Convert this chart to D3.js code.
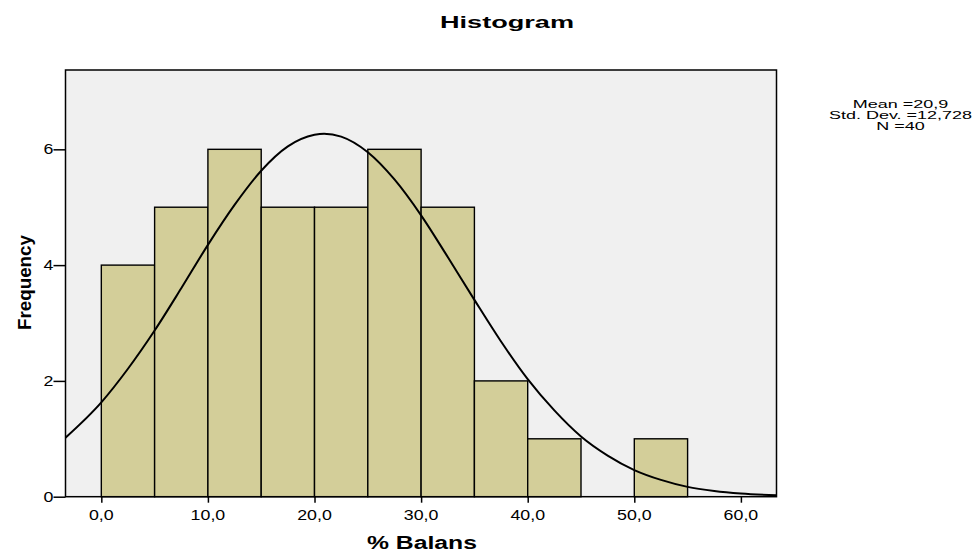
<!DOCTYPE html>
<html>
<head>
<meta charset="utf-8">
<script src="https://cdn.jsdelivr.net/npm/d3@7/dist/d3.min.js"></script>
<style>
  html, body { margin: 0; padding: 0; background: #fff; }
  svg { display: block; font-family: "Liberation Sans", Arial, sans-serif; }
</style>
</head>
<body>
<svg id="chart" width="979" height="556"></svg>
<script>
// ---- data ----
const binLower = [0, 5, 10, 15, 20, 25, 30, 35, 40, 45, 50];
const binUpper = [5, 10, 15, 20, 25, 30, 35, 40, 45, 50, 55];
const frequency = [4, 5, 6, 5, 5, 6, 5, 2, 1, 0, 1];
const xTicks = [0, 10, 20, 30, 40, 50, 60];
const xTickLabels = ["0,0", "10,0", "20,0", "30,0", "40,0", "50,0", "60,0"];
const yTicks = [0, 2, 4, 6];
const yTickLabels = ["0", "2", "4", "6"];
// normal curve
const curveX = [-3.36, 0, 2.5, 5, 7.5, 10, 12.5, 15, 17.5, 20, 20.9, 22.5, 25, 27.5, 30, 32.5, 35, 37.5, 40, 42.5, 45, 47.5, 50, 52.5, 55, 57.5, 60, 63.34];
const curveY = [1.02, 1.63, 2.21, 2.87, 3.60, 4.35, 5.04, 5.63, 6.05, 6.25, 6.27, 6.22, 5.95, 5.48, 4.86, 4.14, 3.40, 2.68, 2.03, 1.49, 1.04, 0.71, 0.46, 0.29, 0.17, 0.10, 0.056, 0.024];
const statsLines = ["Mean =20,9", "Std. Dev. =12,728", "N =40"];
const titleText = "Histogram";
const xLabel = "% Balans";
const yLabel = "Frequency";

// ---- layout ----
const svg = d3.select("#chart");
const pL = 65.5, pR = 776.5, pT = 70, pB = 496.7;
const x = d3.scaleLinear().domain([-3.36, 63.34]).range([pL, pR]);
const y = d3.scaleLinear().domain([0, 7.37]).range([pB, pT]);

svg.append("defs").append("clipPath").attr("id", "plotclip")
  .append("rect").attr("x", pL).attr("y", pT).attr("width", pR - pL).attr("height", pB - pT);

// plot background
svg.append("rect")
  .attr("x", pL).attr("y", pT).attr("width", pR - pL).attr("height", pB - pT)
  .attr("fill", "#f0f0f0");

// bars
const bars = binLower.map((lo, i) => ({ lo, hi: binUpper[i], f: frequency[i] })).filter(d => d.f > 0);
svg.append("g").selectAll("rect").data(bars).join("rect")
  .attr("x", d => x(d.lo))
  .attr("y", d => y(d.f))
  .attr("width", d => x(d.hi) - x(d.lo))
  .attr("height", d => y(0) - y(d.f))
  .attr("fill", "#d3ce99")
  .attr("stroke", "#000")
  .attr("stroke-width", 1.4);

// normal curve
const line = d3.line().x(d => x(d[0])).y(d => y(d[1])).curve(d3.curveMonotoneX);
svg.append("path")
  .datum(curveX.map((v, i) => [v, curveY[i]]))
  .attr("clip-path", "url(#plotclip)")
  .attr("d", line)
  .attr("fill", "none")
  .attr("stroke", "#000")
  .attr("stroke-width", 2);

// frame
svg.append("rect")
  .attr("x", pL).attr("y", pT).attr("width", pR - pL).attr("height", pB - pT)
  .attr("fill", "none").attr("stroke", "#000").attr("stroke-width", 1.5);

// x axis
const xAxis = d3.axisBottom(x).tickValues(xTicks).tickSize(6).tickFormat("");
const gx = svg.append("g").attr("transform", `translate(0,${pB})`).call(xAxis);
gx.select(".domain").remove();
gx.selectAll(".tick line").attr("stroke", "#000").attr("stroke-width", 1.5);
svg.append("g").selectAll("text").data(xTicks).join("text")
  .attr("transform", d => `translate(${x(d)},520) scale(1.27,1)`)
  .attr("text-anchor", "middle")
  .attr("font-size", 14)
  .attr("fill", "#000")
  .text((d, i) => xTickLabels[i]);

// y axis
const yAxis = d3.axisLeft(y).tickValues(yTicks).tickSize(12).tickFormat("");
const gy = svg.append("g").attr("transform", `translate(${pL},0)`).call(yAxis);
gy.select(".domain").remove();
gy.selectAll(".tick line").attr("stroke", "#000").attr("stroke-width", 1.5);
svg.append("g").selectAll("text").data(yTicks).join("text")
  .attr("transform", d => `translate(53.5,${y(d) + 5}) scale(1.27,1)`)
  .attr("text-anchor", "end")
  .attr("font-size", 14)
  .attr("fill", "#000")
  .text((d, i) => yTickLabels[i]);

// title
svg.append("text")
  .attr("x", 440).attr("y", 28)
  .attr("font-size", 17).attr("font-weight", "bold")
  .attr("textLength", 134).attr("lengthAdjust", "spacingAndGlyphs")
  .text(titleText);

// x label
svg.append("text")
  .attr("x", 367).attr("y", 549)
  .attr("font-size", 18).attr("font-weight", "bold")
  .attr("textLength", 110).attr("lengthAdjust", "spacingAndGlyphs")
  .text(xLabel);

// y label
svg.append("text")
  .attr("transform", "translate(31,330) rotate(-90)")
  .attr("font-size", 19).attr("font-weight", "bold")
  .attr("textLength", 95).attr("lengthAdjust", "spacingAndGlyphs")
  .text(yLabel);

// stats box text
svg.append("g").selectAll("text").data(statsLines).join("text")
  .attr("transform", (d, i) => `translate(900.5,${107.8 + i * 11.3}) scale(1.8,1)`)
  .attr("text-anchor", "middle")
  .attr("font-size", 10)
  .attr("fill", "#000")
  .text(d => d);
</script>
</body>
</html>
